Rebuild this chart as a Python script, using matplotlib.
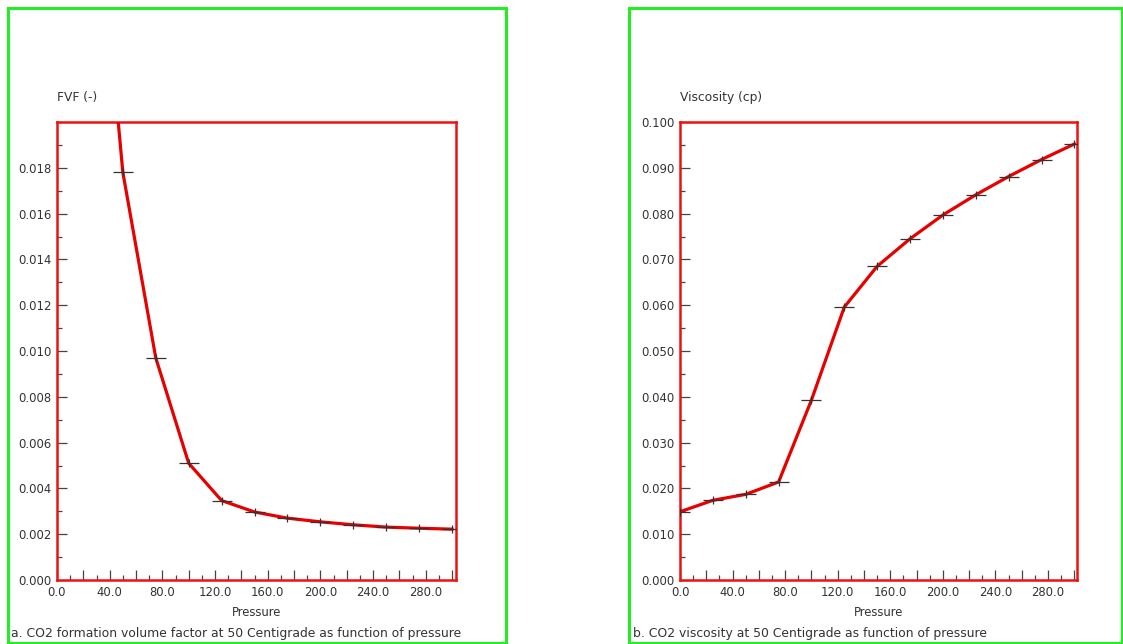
import matplotlib.pyplot as plt
from matplotlib.patches import Rectangle
from matplotlib.ticker import MultipleLocator, FixedLocator, FuncFormatter

# CO2 properties at 50 C against pressure
fvf_pressure = [25, 50, 75, 100, 125, 150, 175, 200, 225, 250, 275, 300]
fvf_values = [0.0335, 0.0178, 0.0097, 0.0051, 0.00347, 0.00297, 0.0027,
              0.00254, 0.00241, 0.00231, 0.00226, 0.00222]

visc_pressure = [0, 25, 50, 75, 100, 125, 150, 175, 200, 225, 250, 275, 300]
visc_values = [0.0149, 0.0174, 0.0187, 0.0214, 0.0393, 0.0596, 0.0685,
               0.0745, 0.0797, 0.0841, 0.0881, 0.0918, 0.0952]

fvf_ticks = [0.000, 0.002, 0.004, 0.006, 0.008, 0.010, 0.012, 0.014, 0.016, 0.018]
visc_ticks = [0.000, 0.010, 0.020, 0.030, 0.040, 0.050, 0.060, 0.070, 0.080, 0.090, 0.100]

W, H = 1123, 644
fig = plt.figure(figsize=(W / 100, H / 100), dpi=100)
fig.patch.set_facecolor('white')

txt = '#333333'
red = '#ee1111'


def px(x0, y0, x1, y1):
    return [x0 / W, 1 - y1 / H, (x1 - x0) / W, (y1 - y0) / H]


def setup(ax, ylim, yticks, yminor, xmax):
    ax.set_xlim(0, xmax)
    ax.set_ylim(*ylim)
    for s in ax.spines.values():
        s.set_color(red)
        s.set_linewidth(1.8)
    ax.xaxis.set_major_locator(MultipleLocator(20))
    ax.xaxis.set_minor_locator(MultipleLocator(10))
    ax.xaxis.set_major_formatter(FuncFormatter(
        lambda v, p: f'{v:.1f}' if round(v) % 40 == 0 and v < 290 else ''))
    ax.yaxis.set_major_locator(FixedLocator(yticks))
    ax.yaxis.set_minor_locator(MultipleLocator(yminor))
    ax.yaxis.set_major_formatter(FuncFormatter(lambda v, p: f'{v:.3f}'))
    ax.tick_params(which='major', direction='in', length=7, width=0.9,
                   color='#444444', labelsize=8.4, labelcolor=txt, pad=4)
    ax.tick_params(which='minor', direction='in', length=3.5, width=0.9,
                   color='#444444')
    ax.tick_params(axis='x', which='both', top=False)
    ax.tick_params(axis='y', which='both', right=False)


def draw_series(ax, x, y):
    ax.plot(x, y, color='#e60000', lw=2.3, zorder=3)
    ax.plot(x, y, ls='none', marker='_', ms=15, mew=0.9, color='#333333', zorder=4)
    ax.plot(x, y, ls='none', marker='|', ms=6, mew=0.9, color='#333333', zorder=4)


# left panel: formation volume factor
ax1 = fig.add_axes(px(57, 122, 456, 580))
setup(ax1, (0, 0.020), fvf_ticks, 0.001, 303)
draw_series(ax1, fvf_pressure, fvf_values)
ax1.set_xlabel('Pressure', fontsize=8.4, color=txt, labelpad=5)
fig.text(57 / W, 1 - 97 / H, 'FVF (-)', fontsize=8.8, color=txt, va='center')
fig.text(11 / W, 1 - 633 / H,
         'a. CO2 formation volume factor at 50 Centigrade as function of pressure',
         fontsize=8.9, color=txt, va='center')

# right panel: viscosity
ax2 = fig.add_axes(px(680, 122, 1077, 580))
setup(ax2, (0, 0.100), visc_ticks, 0.005, 302)
draw_series(ax2, visc_pressure, visc_values)
ax2.set_xlabel('Pressure', fontsize=8.4, color=txt, labelpad=5)
fig.text(680 / W, 1 - 97 / H, 'Viscosity (cp)', fontsize=8.8, color=txt, va='center')
fig.text(633 / W, 1 - 633 / H,
         'b. CO2 viscosity at 50 Centigrade as function of pressure',
         fontsize=8.9, color=txt, va='center')

# green panel frames
for x0, x1 in [(8, 506), (629, 1122)]:
    fig.patches.append(Rectangle((x0 / W, 1 - 643 / H), (x1 - x0) / W, (643 - 8) / H,
                                 transform=fig.transFigure, fill=False,
                                 edgecolor='#22ee22', lw=2.2))

fig.savefig('out.png', dpi=100, facecolor='white')
